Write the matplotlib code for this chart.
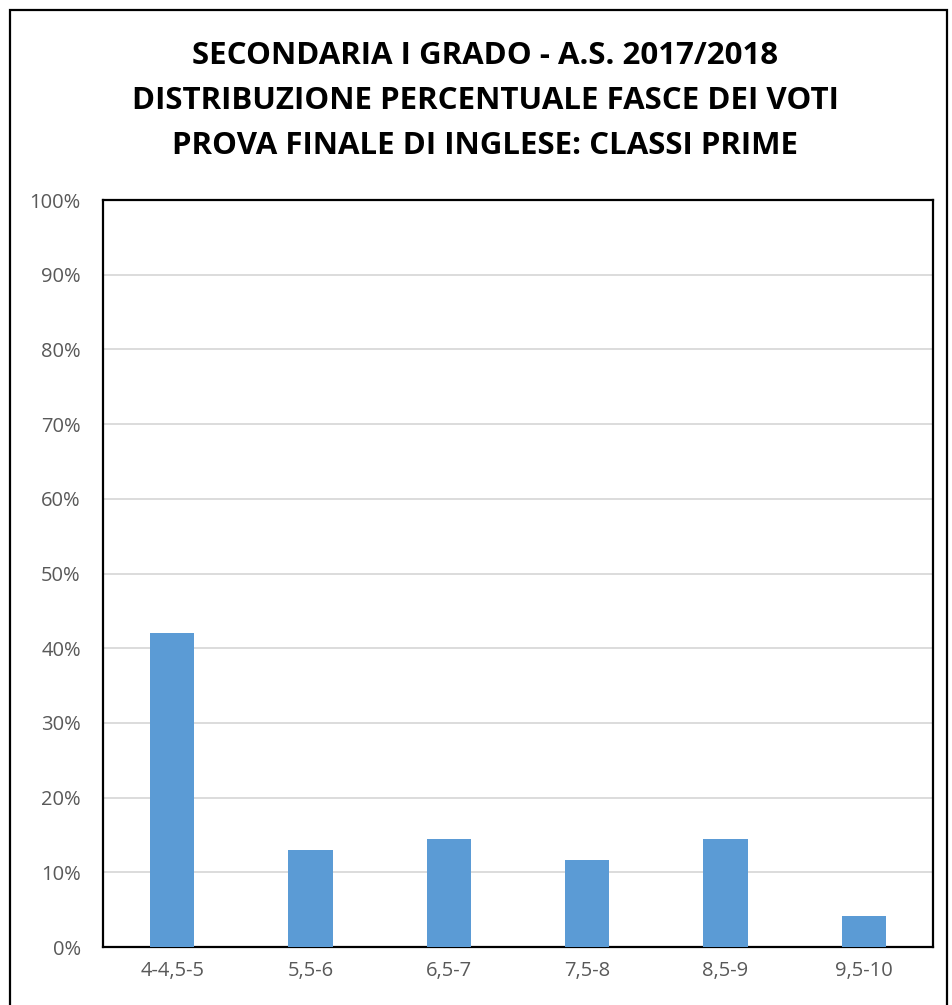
import matplotlib
matplotlib.use("Agg")
import matplotlib.pyplot as plt
from matplotlib.patches import Rectangle
from matplotlib.ticker import PercentFormatter
import numpy as np

categories = ["4-4,5-5", "5,5-6", "6,5-7", "7,5-8", "8,5-9", "9,5-10"]
values = [42.1, 13.0, 14.4, 11.7, 14.4, 4.1]
yticks = list(range(0, 101, 10))
title_lines = ["SECONDARIA I GRADO - A.S. 2017/2018",
               "DISTRIBUZIONE PERCENTUALE FASCE DEI VOTI",
               "PROVA FINALE DI INGLESE: CLASSI PRIME"]

W, H = 953, 1005
fig = plt.figure(figsize=(W/100, H/100), dpi=100)
fig.patch.set_facecolor("white")

# outer frame
fig.patches.append(Rectangle((10/W, -0.05), 937/W, 1.05 - 10/H, transform=fig.transFigure,
                             fill=False, edgecolor="black", linewidth=1.6, clip_on=False))

ax = fig.add_axes([103/W, 1 - 947/H, 830/W, 747/H])
x = np.arange(len(categories))
ax.bar(x, values, width=0.32, color="#5B9BD5", zorder=3)
ax.set_xlim(-0.5, len(categories) - 0.5)
ax.set_ylim(0, 100)
ax.set_yticks(yticks)
ax.yaxis.set_major_formatter(PercentFormatter(decimals=0))
ax.set_xticks(x)
ax.set_xticklabels(categories)
ax.grid(axis="y", color="#D9D9D9", linewidth=1.3, zorder=0)
ax.tick_params(axis="both", length=0, labelsize=14.5, colors="#595959")
ax.tick_params(axis="x", pad=10)
ax.tick_params(axis="y", pad=16)
for lbl in ax.get_xticklabels() + ax.get_yticklabels():
    lbl.set_family("Open Sans")
for s in ax.spines.values():
    s.set_color("black")
    s.set_linewidth(1.6)

for i, line in enumerate(title_lines):
    fig.text(485/W, 1 - (56 + 45*i)/H, line, ha="center", va="center",
             fontsize=22.5, fontweight="bold", family="Open Sans", color="black")

fig.savefig("out.png", dpi=100, facecolor="white")
